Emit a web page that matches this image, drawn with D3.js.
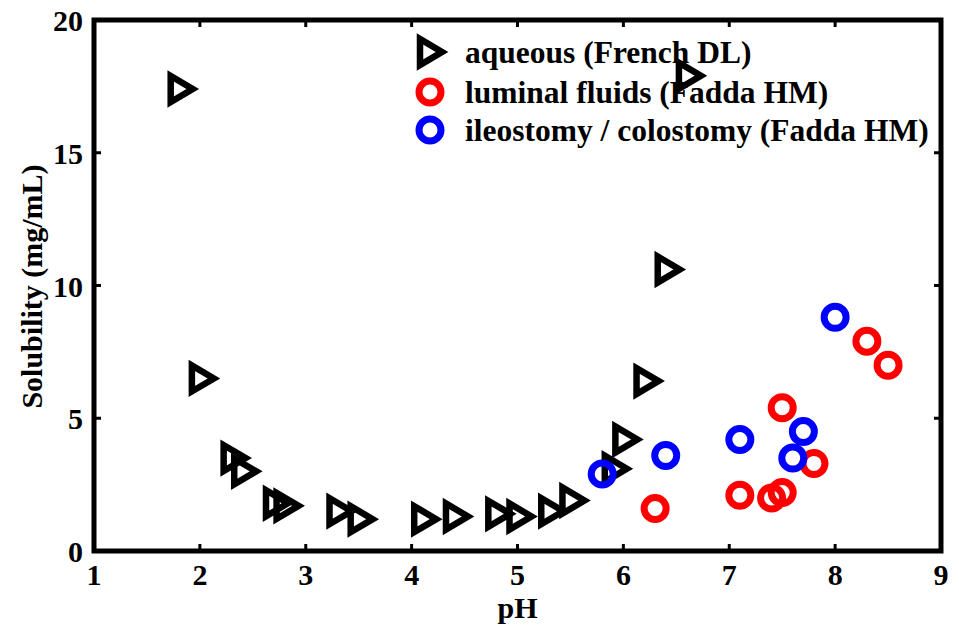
<!DOCTYPE html>
<html>
<head>
<meta charset="utf-8">
<script src="https://cdn.jsdelivr.net/npm/d3@7"></script>
<style>
  body { margin: 0; background: #fff; }
  text { font-family: "Liberation Serif", "Times New Roman", serif; font-weight: bold; }
</style>
</head>
<body>
<div class="chart"></div>
<script>
// DATA ------------------------------------
const seriesNames = ["aqueous (French DL)", "luminal fluids (Fadda HM)", "ileostomy / colostomy (Fadda HM)"];

const aqueousPH  = [1.8, 2.0, 2.3, 2.4, 2.7, 2.8, 3.3, 3.5, 4.1, 4.4, 4.8, 5.0, 5.3, 5.5, 5.9, 6.0, 6.2, 6.4, 6.6];
const aqueousSol = [17.4, 6.5, 3.5, 3.0, 1.8, 1.7, 1.5, 1.2, 1.2, 1.3, 1.4, 1.3, 1.5, 1.9, 3.1, 4.2, 6.4, 10.6, 17.9];

const luminalPH  = [6.3, 7.1, 7.4, 7.5, 7.8, 7.5, 8.3, 8.5];
const luminalSol = [1.6, 2.1, 2.0, 2.2, 3.3, 5.4, 7.9, 7.0];

const ileoPH  = [5.8, 6.4, 7.1, 7.7, 7.6, 8.0];
const ileoSol = [2.9, 3.6, 4.2, 4.5, 3.5, 8.8];

const xTicks = [1, 2, 3, 4, 5, 6, 7, 8, 9];
const yTicks = [0, 5, 10, 15, 20];

// CHART INIT ------------------------------
var margin = {top: 20, right: 18, bottom: 75, left: 94};
var width = 959 - margin.left - margin.right,
    height = 626 - margin.top - margin.bottom;

const svg = d3.select(".chart").append("svg")
    .attr("width", 959)
    .attr("height", 626)
  .append("g")
    .attr("transform", "translate(" + margin.left + "," + margin.top + ")");

const x = d3.scaleLinear().domain([1, 9]).range([0, width]);
const y = d3.scaleLinear().domain([0, 20]).range([height, 0]);

const fs = 30;

// inward ticks on all four sides
const tickLen = 7;
xTicks.slice(1, -1).forEach(t => {
    svg.append("line").attr("x1", x(t)).attr("x2", x(t)).attr("y1", height).attr("y2", height - tickLen)
        .attr("stroke", "#000").attr("stroke-width", 3);
    svg.append("line").attr("x1", x(t)).attr("x2", x(t)).attr("y1", 0).attr("y2", tickLen)
        .attr("stroke", "#000").attr("stroke-width", 3);
});
yTicks.slice(1, -1).forEach(t => {
    svg.append("line").attr("x1", 0).attr("x2", tickLen).attr("y1", y(t)).attr("y2", y(t))
        .attr("stroke", "#000").attr("stroke-width", 3);
    svg.append("line").attr("x1", width).attr("x2", width - tickLen).attr("y1", y(t)).attr("y2", y(t))
        .attr("stroke", "#000").attr("stroke-width", 3);
});

// tick labels
svg.selectAll(".xlab").data(xTicks).enter().append("text")
    .attr("x", d => x(d)).attr("y", height + 34)
    .attr("text-anchor", "middle").attr("font-size", fs)
    .text(d => d);
svg.selectAll(".ylab").data(yTicks).enter().append("text")
    .attr("x", -11).attr("y", d => y(d) + 11)
    .attr("text-anchor", "end").attr("font-size", fs)
    .text(d => d);

// axis titles
svg.append("text")
    .attr("x", x(5)).attr("y", height + 67)
    .attr("text-anchor", "middle").attr("font-size", fs)
    .text("pH");
svg.append("text")
    .attr("transform", "translate(" + (-52) + "," + (y(10) + 1) + ") rotate(-90)")
    .attr("text-anchor", "middle").attr("font-size", fs)
    .text("Solubility (mg/mL)");

// markers
const triPath = "M-8,-13L-8,13L14,0Z";

function drawTri(g, px, py) {
    g.append("path").attr("d", triPath)
        .attr("transform", "translate(" + px + "," + py + ")")
        .attr("fill", "none").attr("stroke", "#000")
        .attr("stroke-width", 6.5).attr("stroke-linejoin", "miter").attr("stroke-miterlimit", 10);
}
function drawRing(g, px, py, color) {
    g.append("circle").attr("cx", px).attr("cy", py).attr("r", 11)
        .attr("fill", "none").attr("stroke", color).attr("stroke-width", 7);
}

const pts = svg.append("g");
aqueousPH.forEach((p, i) => drawTri(pts, x(p), y(aqueousSol[i])));
luminalPH.forEach((p, i) => drawRing(pts, x(p), y(luminalSol[i]), "#ff0000"));
ileoPH.forEach((p, i) => drawRing(pts, x(p), y(ileoSol[i]), "#0000ff"));

// legend
const rowY = [32, 72, 110];
const lg = svg.append("g").attr("transform", "translate(338,0)");
drawTri(lg, -4, rowY[0]);
drawRing(lg, -2, rowY[1], "#ff0000");
drawRing(lg, -2, rowY[2], "#0000ff");
seriesNames.forEach((n, i) => {
    lg.append("text").attr("x", 33).attr("y", rowY[i] + 11)
        .attr("font-size", 31.5).text(n);
});

// frame
svg.append("rect").attr("x", 0).attr("y", 0).attr("width", width).attr("height", height)
    .attr("fill", "none").attr("stroke", "#000").attr("stroke-width", 5);
</script>
</body>
</html>
